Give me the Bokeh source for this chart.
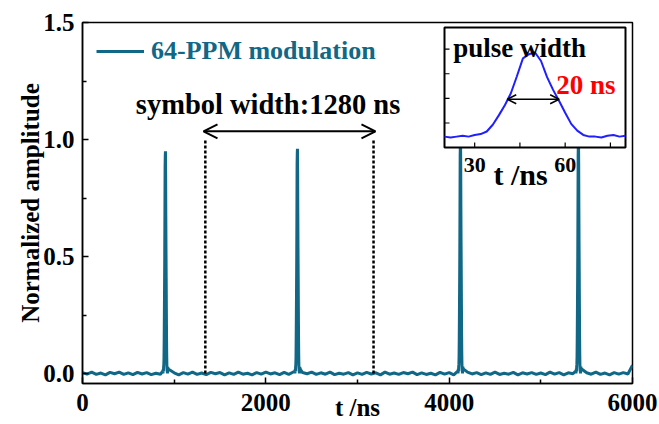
import numpy as np
from bokeh.plotting import figure
from bokeh.models import (Range1d, FixedTicker, PrintfTickFormatter, Arrow, OpenHead)
from bokeh.core.properties import value
from bokeh.embed import file_html
from bokeh.resources import INLINE

# ---------------- data ----------------
# main trace: baseline samples every 50 ns (0 .. 6000 ns), normalized amplitude
base_step_ns = 50
base_noise = [0.004, -0.003, 0.006, -0.004, 0.002, -0.006, 0.005, -0.001, 0.006, -0.004,
              0.003, -0.005, 0.005, -0.002, 0.004, -0.005, 0.001, -0.003, 0.006, -0.004,
              0.003, -0.006, 0.004, -0.003, 0.006, -0.004, 0.002, -0.005, 0.005, -0.001,
              0.004, -0.006, 0.003, -0.004, 0.006, -0.003, 0.001, -0.006, 0.004, -0.003,
              0.006, -0.002, 0.003, -0.005, 0.005, -0.004, 0.002, -0.006, 0.004, -0.001,
              0.006, -0.004, 0.003, -0.003, 0.006, -0.005, 0.001, -0.003, 0.004, -0.006,
              0.003, -0.004, 0.005, -0.002, 0.003, -0.006, 0.006, -0.003, 0.002, -0.004,
              0.004, -0.001, 0.006, -0.005, 0.003, -0.004, 0.001, -0.006, 0.005, -0.003,
              0.004, -0.006, 0.002, -0.003, 0.006, -0.002, 0.004, -0.005, 0.003, -0.004,
              0.006, -0.004, 0.001, -0.003, 0.005, -0.006, 0.003, -0.002, 0.004, -0.004,
              0.002, -0.005, 0.006, -0.003, 0.004, -0.006, 0.003, -0.001, 0.005, -0.004,
              0.003, -0.003, 0.006, -0.004, 0.002, -0.006, 0.004, -0.003, 0.004, -0.002,
              0.035]
pulse_centers_ns = [905, 2345, 4124, 5411]
pulse_heights = [0.95, 0.96, 1.00, 1.00]

# inset: single pulse (t in ns, normalized amplitude)
inset_t = [20, 22, 24, 26, 28, 30, 32, 34, 36, 38, 40, 42, 44, 46, 48, 50,
           52, 54, 56, 58, 60, 62, 64, 66, 68, 70, 72, 74, 76, 78, 80]
inset_amp = [0.01, 0.00, 0.01, 0.02, 0.01, 0.03, 0.04, 0.07, 0.15, 0.26, 0.38, 0.52, 0.72, 0.93, 0.98, 1.00,
             0.90, 0.71, 0.56, 0.43, 0.29, 0.16, 0.08, 0.03, 0.01, 0.01, 0.00, 0.02, 0.03, 0.01, 0.02]
inset_peak_t = 50

# annotations
symbol_marks_ns = [1340, 3175]
symbol_mark_top = 1.0
symbol_arrow_ns = [1320, 3196]
symbol_arrow_level = 1.035
symbol_text = "symbol width:1280 ns"
symbol_text_pos = (2024, 1.149)
inset_arrow_ns = [40.8, 58.0]
inset_arrow_level = 0.45

x_ticks = [0, 2000, 4000, 6000]
x_minor = [1000, 3000, 5000]
y_ticks = [0.0, 0.5, 1.0, 1.5]
y_minor = [0.25, 0.75, 1.25]
inset_x_ticks = [30, 45, 60, 75]
inset_x_labels = ["30", "60"]
inset_x_label_pos = [30, 60]
inset_y_ticks = [0.17, 0.46, 0.75, 1.04]

# ---------------- build main trace ----------------
base_t = [i * base_step_ns for i in range(len(base_noise))]
prof_off = [t - inset_peak_t for t in inset_t]
prof_max = max(inset_amp)
pts = []
for t, a in zip(base_t, base_noise):
    if all(abs(t - c) > 45 for c in pulse_centers_ns):
        pts.append((t, a))
for c, h in zip(pulse_centers_ns, pulse_heights):
    for o, a in zip(prof_off, inset_amp):
        pts.append((c + o, h * a / prof_max))
pts.sort()
main_t = [p_[0] for p_ in pts]
main_a = [p_[1] for p_ in pts]

# ---------------- layout constants ----------------
W, H = 659, 424
B_LEFT, B_RIGHT, B_TOP, B_BOTTOM = 82, 27, 22, 41
FRAME_W = W - B_LEFT - B_RIGHT
FRAME_H = H - B_TOP - B_BOTTOM
Y_PX_PER_UNIT = 234.0
Y_START = -(FRAME_H - 1.5 * Y_PX_PER_UNIT) / Y_PX_PER_UNIT
# inset box in frame pixels (left, right, top, bottom) and its axis limits
IN_L, IN_R, IN_T, IN_B = 362, 543, 5, 125
IX0, IX1 = 20, 80
IY0, IY1 = -0.118, 1.294
sx = (IX1 - IX0) / (IN_R - IN_L)
sy = (IY1 - IY0) / (IN_B - IN_T)

TEAL = "#116886"
FONT = "Liberation Serif"

p = figure(width=W, height=H, output_backend="svg", toolbar_location=None,
           x_range=Range1d(0, 6000), y_range=Range1d(Y_START, 1.5),
           min_border_left=B_LEFT, min_border_right=B_RIGHT,
           min_border_top=B_TOP, min_border_bottom=B_BOTTOM)
p.extra_x_ranges = {"ix": Range1d(IX0 - IN_L * sx, IX1 + (FRAME_W - IN_R) * sx)}
p.extra_y_ranges = {"iy": Range1d(IY0 - (FRAME_H - IN_B) * sy, IY1 + IN_T * sy)}

p.xgrid.visible = False
p.ygrid.visible = False
p.outline_line_color = "black"
p.outline_line_width = 1.5
p.background_fill_color = "white"
p.border_fill_color = "white"

for ax in (p.xaxis[0], p.yaxis[0]):
    ax.axis_line_width = 1.5
    ax.axis_line_color = "black"
    ax.major_tick_in = 6
    ax.major_tick_out = 0
    ax.minor_tick_in = 4
    ax.minor_tick_out = 0
    ax.major_tick_line_width = 1.5
    ax.minor_tick_line_width = 1.5
    ax.major_label_text_font = FONT
    ax.major_label_text_font_style = "bold"
    ax.major_label_text_font_size = "25px"
    ax.major_label_text_color = "black"
    ax.axis_label_text_font = FONT
    ax.axis_label_text_font_style = "bold"
    ax.axis_label_text_font_size = "25px"
    ax.axis_label_text_color = "black"

p.xaxis.ticker = FixedTicker(ticks=x_ticks, minor_ticks=x_minor)
p.yaxis.ticker = FixedTicker(ticks=y_ticks, minor_ticks=y_minor)
p.yaxis.formatter = PrintfTickFormatter(format="%.1f")
p.xaxis.major_label_standoff = 10
p.yaxis.major_label_standoff = 8
p.xaxis.axis_label = "t /ns"
p.xaxis.axis_label_standoff = -20
p.yaxis.axis_label = "Normalized amplitude"
p.yaxis.axis_label_standoff = -4

# main trace
p.line(main_t, main_a, line_color=TEAL, line_width=3, legend_label="64-PPM modulation")

# dotted symbol markers
p.segment(x0=symbol_marks_ns, y0=[0, 0], x1=symbol_marks_ns, y1=[symbol_mark_top] * 2,
          line_color="black", line_width=2.5, line_dash="3 2")
p.add_layout(Arrow(x_start=symbol_arrow_ns[0], x_end=symbol_arrow_ns[1],
                   y_start=symbol_arrow_level, y_end=symbol_arrow_level,
                   line_color="black", line_width=2,
                   start=OpenHead(size=14, line_width=2, line_color="black"),
                   end=OpenHead(size=14, line_width=2, line_color="black")))
p.text(x=[symbol_text_pos[0]], y=[symbol_text_pos[1]], text=[symbol_text],
       text_font=value(FONT), text_font_style="bold", text_font_size=value("28.5px"),
       text_align="center", text_baseline="alphabetic", text_color="black")

# ---------------- inset ----------------
R = dict(x_range_name="ix", y_range_name="iy")
p.quad(left=[IX0], right=[IX1], bottom=[IY0], top=[IY1], fill_color="white",
       line_color="black", line_width=2, **R)
p.line(inset_t, inset_amp, line_color="#1f1fff", line_width=2, **R)
p.segment(x0=inset_x_ticks, y0=[IY0] * 4, x1=inset_x_ticks, y1=[IY0 + 5 * sy] * 4,
          line_color="black", line_width=1.2, **R)
p.segment(x0=[IX0] * 4, y0=inset_y_ticks, x1=[IX0 + 5 * sx] * 4, y1=inset_y_ticks,
          line_color="black", line_width=1.2, **R)
p.add_layout(Arrow(x_start=inset_arrow_ns[0], x_end=inset_arrow_ns[1],
                   y_start=inset_arrow_level, y_end=inset_arrow_level,
                   line_color="black", line_width=1.5,
                   start=OpenHead(size=9, line_width=1.5, line_color="black"),
                   end=OpenHead(size=9, line_width=1.5, line_color="black"), **R))
p.text(x=[44.9], y=[1.047], text=["pulse width"], text_font=value(FONT), text_font_style="bold",
       text_font_size=value("27px"), text_align="center", text_baseline="alphabetic",
       text_color="black", **R)
p.text(x=[66.9], y=[0.612], text=["20 ns"], text_font=value(FONT), text_font_style="bold",
       text_font_size=value("27px"), text_align="center", text_baseline="alphabetic",
       text_color="#ff0000", **R)
p.text(x=inset_x_label_pos, y=[-0.32] * 2, text=inset_x_labels, text_font=value(FONT),
       text_font_style="bold", text_font_size=value("22px"), text_align="center",
       text_baseline="alphabetic", text_color="black", **R)
p.text(x=[45.2], y=[-0.43], text=["t /ns"], text_font=value(FONT), text_font_style="bold",
       text_font_size=value("30px"), text_align="center", text_baseline="alphabetic",
       text_color="black", **R)

# legend
lg = p.legend[0]
lg.location = "top_left"
lg.margin = 14
lg.padding = 0
lg.spacing = 0
lg.glyph_width = 48
lg.label_standoff = 7
lg.border_line_alpha = 0
lg.background_fill_alpha = 0
lg.label_text_font = FONT
lg.label_text_font_style = "bold"
lg.label_text_font_size = "26px"
lg.label_text_color = TEAL

open("out.html", "w").write(file_html(p, INLINE))
